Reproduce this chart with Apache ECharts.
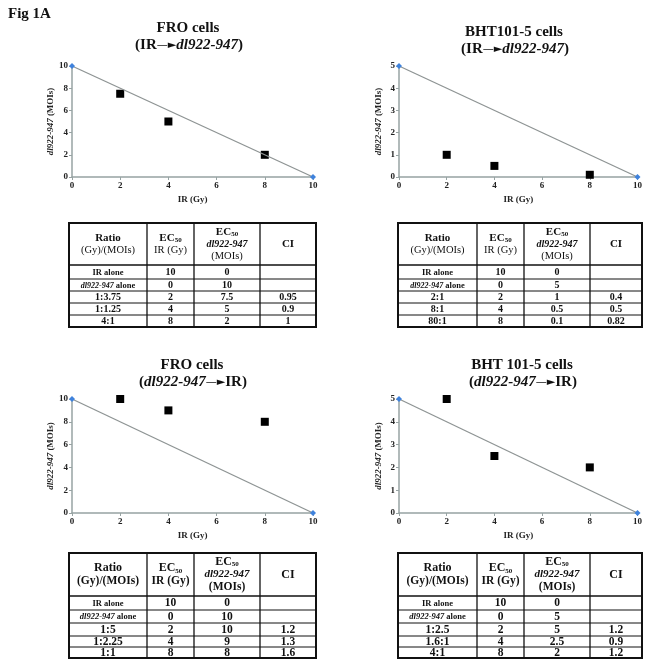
<!DOCTYPE html>
<html><head><meta charset="utf-8">
<script src="https://cdn.jsdelivr.net/npm/echarts@6/dist/echarts.min.js"></script>
<style>html,body{margin:0;padding:0;background:#fff}#c{width:645px;height:664px}</style>
</head><body><div id="c"></div><script>
// Panel A: FRO cells, IR -> dl922-947
const ratioA = ['IR alone', 'dl922-947 alone', '1:3.75', '1:1.25', '4:1'];
const irA    = [10, 0, 2, 4, 8];
const dlA    = [0, 10, 7.5, 5, 2];
const ciA    = ['', '', '0.95', '0.9', '1'];
// Panel B: BHT101-5 cells, IR -> dl922-947
const ratioB = ['IR alone', 'dl922-947 alone', '2:1', '8:1', '80:1'];
const irB    = [10, 0, 2, 4, 8];
const dlB    = [0, 5, 1, 0.5, 0.1];
const ciB    = ['', '', '0.4', '0.5', '0.82'];
// Panel C: FRO cells, dl922-947 -> IR
const ratioC = ['IR alone', 'dl922-947 alone', '1:5', '1:2.25', '1:1'];
const irC    = [10, 0, 2, 4, 8];
const dlC    = [0, 10, 10, 9, 8];
const ciC    = ['', '', '1.2', '1.3', '1.6'];
// Panel D: BHT 101-5 cells, dl922-947 -> IR
const ratioD = ['IR alone', 'dl922-947 alone', '1:2.5', '1.6:1', '4:1'];
const irD    = [10, 0, 2, 4, 8];
const dlD    = [0, 5, 5, 2.5, 2];
const ciD    = ['', '', '1.2', '0.9', '1.2'];

const titleA = 'FRO cells', titleB = 'BHT101-5 cells', titleC = 'FRO cells', titleD = 'BHT 101-5 cells';
const xTickMax = 10, xTickStep = 2;
const yMaxA = 10, yStepA = 2, yMaxB = 5, yStepB = 1;

// ---- Layout ----
const SERIF = '"Liberation Serif","DejaVu Serif",serif';
const panels = [
  {ratio: ratioA, ir: irA, dl: dlA, ci: ciA, title: titleA, irFirst: true,  yMax: yMaxA, yStep: yStepA,
   grid: {left: 72, top: 66, width: 241, height: 111}, tx: 188, ty: 28, tab: {L: 69, T: 223, cols: [78, 47, 66, 56], hh: 42, rows: [14, 12, 12, 12, 12], big: false}},
  {ratio: ratioB, ir: irB, dl: dlB, ci: ciB, title: titleB, irFirst: true,  yMax: yMaxB, yStep: yStepB,
   grid: {left: 399, top: 66, width: 243, height: 111}, tx: 514, ty: 32, tab: {L: 398, T: 223, cols: [79, 47, 66, 52], hh: 42, rows: [14, 12, 12, 12, 12], big: false}},
  {ratio: ratioC, ir: irC, dl: dlC, ci: ciC, title: titleC, irFirst: false, yMax: yMaxA, yStep: yStepA,
   grid: {left: 72, top: 399, width: 241, height: 114}, tx: 192, ty: 365, tab: {L: 69, T: 553, cols: [78, 47, 66, 56], hh: 43, rows: [14, 13, 13, 11, 11], big: true}},
  {ratio: ratioD, ir: irD, dl: dlD, ci: ciD, title: titleD, irFirst: false, yMax: yMaxB, yStep: yStepB,
   grid: {left: 399, top: 399, width: 243, height: 114}, tx: 522, ty: 365, tab: {L: 398, T: 553, cols: [79, 47, 66, 52], hh: 43, rows: [14, 13, 13, 11, 11], big: true}}
];

const axisCol = '#97a3a3';
const labelStyle = {fontFamily: SERIF, fontWeight: 'bold', fontSize: 9, color: '#222'};

const grids = [], xAxes = [], yAxes = [], series = [], graphics = [];

graphics.push({type: 'text', x: 8, y: 14, style: {text: 'Fig 1A', align: 'left', verticalAlign: 'middle',
  font: 'bold 15px ' + SERIF, fill: '#111'}});

function cellText(x, y, text, rich, base) {
  return {type: 'text', x: x, y: y, z: 10, style: Object.assign({text: text, align: 'center', verticalAlign: 'middle',
    rich: rich, fill: '#111'}, base)};
}

function buildTable(p) {
  const t = p.tab;
  const W = t.cols.reduce((a, b) => a + b, 0);
  const H = t.hh + t.rows.reduce((a, b) => a + b, 0);
  const out = [];
  const fs = t.big ? 11.5 : 10;
  const hfs = t.big ? 12 : 11;
  const rich = {
    hb: {fontFamily: SERIF, fontWeight: 'bold', fontSize: hfs, lineHeight: hfs + 1, fill: '#111'},
    hn: {fontFamily: SERIF, fontWeight: t.big ? 'bold' : 'normal', fontSize: hfs - 0.5, lineHeight: hfs + 1, fill: '#111'},
    hi: {fontFamily: SERIF, fontWeight: 'bold', fontStyle: 'italic', fontSize: hfs - 1, lineHeight: hfs + 1, fill: '#111'},
    sub: {fontFamily: SERIF, fontWeight: 'bold', fontSize: 7, lineHeight: hfs + 1, verticalAlign: 'bottom', fill: '#111'},
    b: {fontFamily: SERIF, fontWeight: 'bold', fontSize: fs, fill: '#111'},
    bs: {fontFamily: SERIF, fontWeight: 'bold', fontSize: t.big ? 8.5 : 8.5, fill: '#111'},
    bi: {fontFamily: SERIF, fontWeight: 'bold', fontStyle: 'italic', fontSize: t.big ? 8.5 : 8, fill: '#111'}
  };
  out.push({type: 'rect', z: 9, shape: {x: t.L, y: t.T, width: W, height: H},
    style: {fill: 'none', stroke: '#111', lineWidth: 2}});
  let cx = t.L;
  for (let i = 0; i < t.cols.length - 1; i++) {
    cx += t.cols[i];
    out.push({type: 'line', z: 9, shape: {x1: cx, y1: t.T, x2: cx, y2: t.T + H}, style: {stroke: '#111', lineWidth: 1.3}});
  }
  let cy = t.T + t.hh;
  out.push({type: 'line', z: 9, shape: {x1: t.L, y1: cy, x2: t.L + W, y2: cy}, style: {stroke: '#111', lineWidth: 1.5}});
  for (let r = 0; r < t.rows.length - 1; r++) {
    cy += t.rows[r];
    out.push({type: 'line', z: 9, shape: {x1: t.L, y1: cy, x2: t.L + W, y2: cy}, style: {stroke: '#111', lineWidth: 1}});
  }
  const centers = [];
  let acc = t.L;
  for (const w of t.cols) { centers.push(acc + w / 2); acc += w; }
  const hy = t.T + t.hh / 2;
  const header = [
    '{hb|Ratio}\n{hn|(Gy)/(MOIs)}',
    '{hb|EC}{sub|50}\n{hn|IR (Gy)}',
    '{hb|EC}{sub|50}\n{hi|dl922-947}\n{hn|(MOIs)}',
    '{hb|CI}'
  ];
  header.forEach((h, i) => out.push(cellText(centers[i], hy, h, rich, {})));
  let ry = t.T + t.hh;
  for (let r = 0; r < p.ratio.length; r++) {
    const yc = ry + t.rows[r] / 2 + 0.5;
    const rt = p.ratio[r];
    let rtxt;
    if (rt.indexOf('dl922-947') === 0) rtxt = '{bi|dl922-947}{bs|' + rt.slice(9) + '}';
    else if (rt.indexOf('alone') >= 0) rtxt = '{bs|' + rt + '}';
    else rtxt = '{b|' + rt + '}';
    out.push(cellText(centers[0], yc, rtxt, rich, {}));
    out.push(cellText(centers[1], yc, '{b|' + p.ir[r] + '}', rich, {}));
    out.push(cellText(centers[2], yc, '{b|' + p.dl[r] + '}', rich, {}));
    if (p.ci[r] !== '') out.push(cellText(centers[3], yc, '{b|' + p.ci[r] + '}', rich, {}));
    ry += t.rows[r];
  }
  return out;
}

panels.forEach((p, i) => {
  grids.push(Object.assign({containLabel: false}, p.grid));
  xAxes.push({
    type: 'value', gridIndex: i, min: 0, max: xTickMax, interval: xTickStep,
    axisLine: {show: true, lineStyle: {color: axisCol, width: 1.5}},
    axisTick: {show: true, length: 3, lineStyle: {color: axisCol}},
    splitLine: {show: false},
    axisLabel: Object.assign({margin: 4}, labelStyle),
    name: 'IR (Gy)', nameLocation: 'middle', nameGap: 18,
    nameTextStyle: {fontFamily: SERIF, fontWeight: 'bold', fontSize: 9, color: '#222'}
  });
  yAxes.push({
    type: 'value', gridIndex: i, min: 0, max: p.yMax, interval: p.yStep,
    axisLine: {show: true, lineStyle: {color: axisCol, width: 1.5}},
    axisTick: {show: true, length: 3, lineStyle: {color: axisCol}},
    splitLine: {show: false},
    axisLabel: Object.assign({margin: 4}, labelStyle),
    name: '{i|dl922-947} (MOIs)', nameLocation: 'middle', nameGap: 16,
    nameTextStyle: {fontFamily: SERIF, fontWeight: 'bold', fontSize: 9, color: '#222',
      rich: {i: {fontFamily: SERIF, fontWeight: 'bold', fontStyle: 'italic', fontSize: 9, color: '#222'}}}
  });
  series.push({
    type: 'line', xAxisIndex: i, yAxisIndex: i, silent: true, animation: false,
    data: [[p.ir[0], p.dl[0]], [p.ir[1], p.dl[1]]],
    symbol: 'diamond', symbolSize: 6, showSymbol: true,
    itemStyle: {color: '#3f82dc'}, lineStyle: {color: '#8e9494', width: 1.3}
  });
  series.push({
    type: 'scatter', xAxisIndex: i, yAxisIndex: i, animation: false,
    data: p.ir.slice(2).map((v, k) => [v, p.dl[k + 2]]),
    symbol: 'rect', symbolSize: 8, itemStyle: {color: '#000', opacity: 1}
  });
  graphics.push({type: 'text', x: p.tx, y: p.ty, style: {text: p.title, align: 'center', verticalAlign: 'middle',
    font: 'bold 15px ' + SERIF, fill: '#111'}});
  const sub = p.irFirst ? '{n|(IR}{a|\u2014\u25BA}{i|dl922-947}{n|)}' : '{n|(}{i|dl922-947}{a|\u2014\u25BA}{n|IR)}';
  graphics.push({type: 'text', x: p.tx + 1, y: p.ty + 17, style: {text: sub, align: 'center', verticalAlign: 'middle',
    rich: {
      n: {fontFamily: SERIF, fontWeight: 'bold', fontSize: 15, fill: '#111'},
      i: {fontFamily: SERIF, fontWeight: 'bold', fontStyle: 'italic', fontSize: 15, fill: '#111'},
      a: {fontFamily: '"DejaVu Sans",sans-serif', fontSize: 11, fill: '#111'}
    }}});
  buildTable(p).forEach(g => graphics.push(g));
});

const chart = echarts.init(document.getElementById('c'), null, {renderer: 'canvas'});
chart.setOption({
  animation: false,
  backgroundColor: '#fff',
  grid: grids, xAxis: xAxes, yAxis: yAxes, series: series,
  graphic: graphics
});
</script></body></html>
